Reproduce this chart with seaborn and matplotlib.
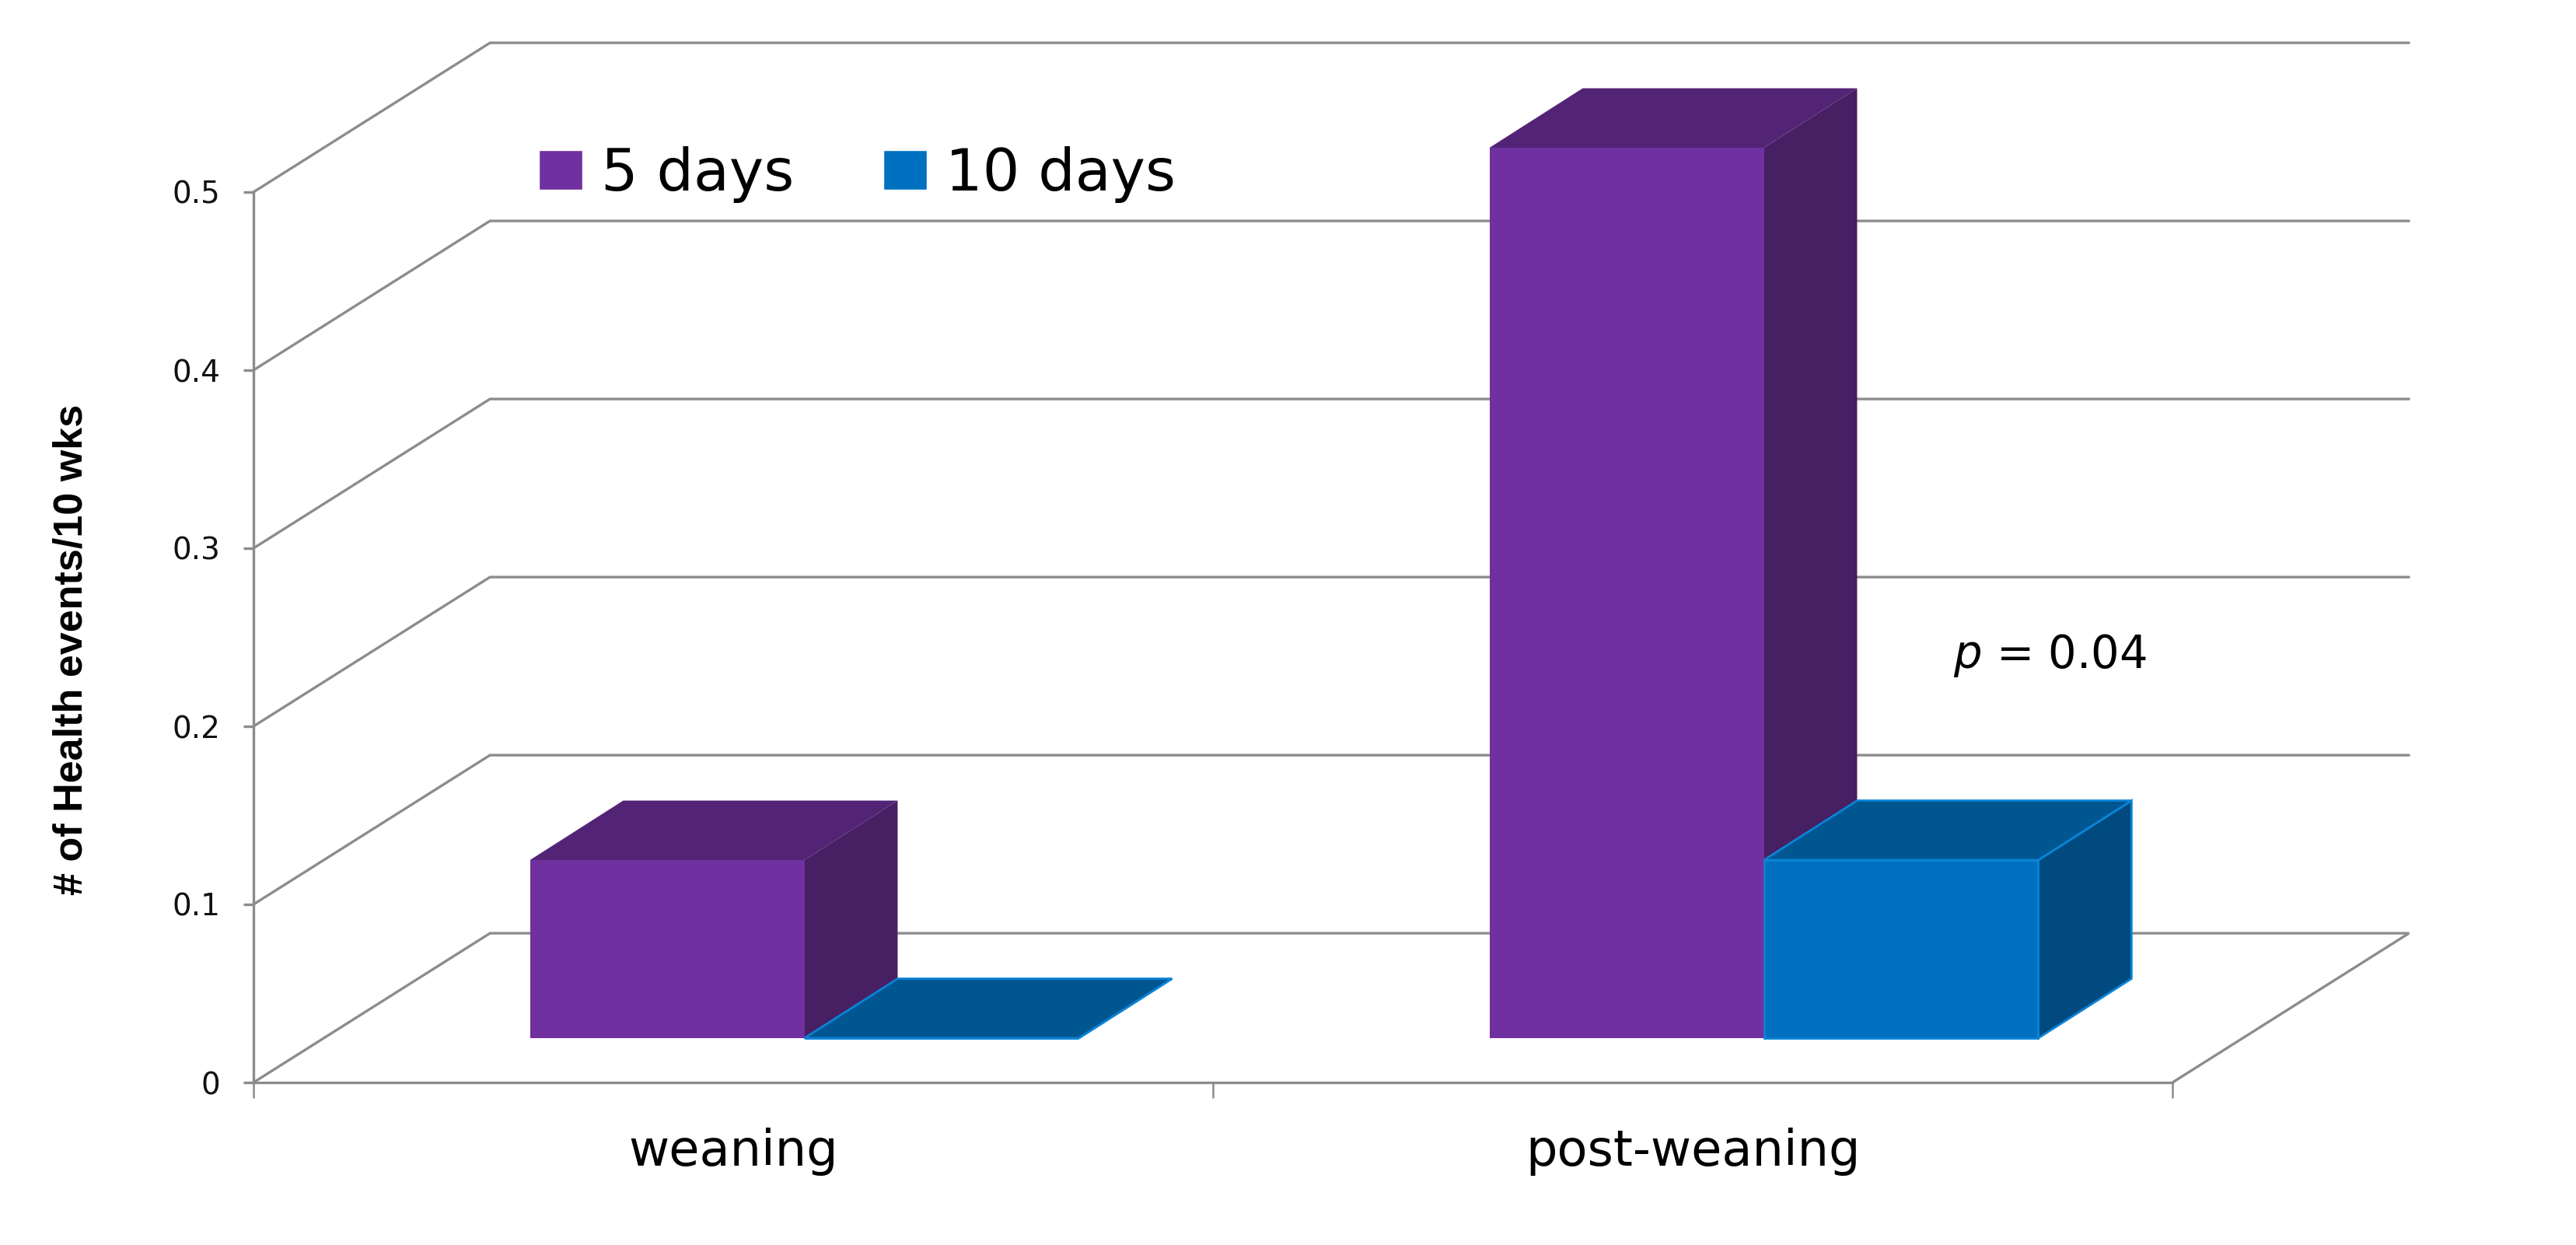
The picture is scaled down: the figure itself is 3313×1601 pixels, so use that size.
import pandas as pd
import matplotlib
matplotlib.use("Agg")
import matplotlib.pyplot as plt
from matplotlib.patches import Polygon
import seaborn as sns

# values
categories = ["weaning", "post-weaning"]
durations = ["5 days", "10 days"]
five_days = [0.1, 0.5]
ten_days = [0.0, 0.1]
y_ticks = [0, 0.1, 0.2, 0.3, 0.4, 0.5]
y_tick_labels = ["0", "0.1", "0.2", "0.3", "0.4", "0.5"]

front_colors = ["#7030A0", "#0070C0"]
top_colors = ["#532476", "#005691"]
side_colors = ["#471F63", "#004A80"]
edge_colors = ["#7030A0", "#0A84D6"]
grid_color = "#8C8C8C"

# fake 3d depth, in data units
wall_dx, wall_dy = 0.2465, 0.0838
bar_dx, bar_dy = 0.0972, 0.0334

W, H = 3313, 1601
sns.set_theme(style="white")
plt.rcParams["font.family"] = ["DejaVu Sans"]

df = pd.DataFrame({
    "phase": categories * 2,
    "duration": [durations[0]] * 2 + [durations[1]] * 2,
    "events": five_days + ten_days,
})

fig = plt.figure(figsize=(W / 100, H / 100), dpi=100, facecolor="white")

# axes frame and back walls
frame = fig.add_axes([326 / W, (H - 1392) / H, 2468 / W, 1145 / H])
frame.set_xlim(-0.5, 1.5)
frame.set_ylim(0, 0.5)
for v in y_ticks:
    xs = [-0.5, -0.5 + wall_dx, 1.5 + wall_dx]
    ys = [v, v + wall_dy, v + wall_dy]
    if v == 0:
        xs.append(1.5)
        ys.append(0)
    frame.plot(xs, ys, color=grid_color, lw=2.4, clip_on=False, solid_joinstyle="miter")

sns.despine(ax=frame)
for side in ["left", "bottom"]:
    frame.spines[side].set_color(grid_color)
    frame.spines[side].set_linewidth(2.4)
frame.set_yticks(y_ticks, y_tick_labels, fontsize=28, color="#111111")
frame.tick_params(axis="y", left=True, length=9.5, width=2.4, color=grid_color, pad=21)
frame.set_xticks(range(len(categories)), categories, fontsize=46, color="black")
frame.set_xticks([-0.5, 0.5, 1.5], minor=True)
frame.tick_params(axis="x", which="major", bottom=False, pad=36)
frame.tick_params(axis="x", which="minor", bottom=True, length=14.5, width=1.8, color=grid_color)
frame.set_ylabel("# of Health events/10 wks", fontsize=37.5, fontweight="bold",
                 family=["Liberation Sans", "DejaVu Sans"], color="black")
frame.yaxis.set_label_coords(-0.085, 0.486)
frame.text(1.2715, 0.2397, r"$\mathit{p}$ = 0.04", fontsize=41.5, color="black", va="center", ha="left")

# bars sit on a plane a bit deeper than the frame
ax = fig.add_axes([417.5 / W, (H - 1335) / H, 2468 / W, 1145 / H])
sns.barplot(data=df, x="phase", y="events", hue="duration", hue_order=durations,
            palette=front_colors, saturation=1, width=0.572, gap=0, dodge=True, ax=ax)
ax.set_xlim(-0.5, 1.5)
ax.set_ylim(0, 0.5)

for i, container in enumerate(ax.containers):
    lw = 2 if i == 1 else 0
    for bar in container:
        bar.set_edgecolor(edge_colors[i])
        bar.set_linewidth(lw)
        x0, x1 = bar.get_x(), bar.get_x() + bar.get_width()
        y = bar.get_height()
        top = [(x0, y), (x1, y), (x1 + bar_dx, y + bar_dy), (x0 + bar_dx, y + bar_dy)]
        side = [(x1, 0), (x1, y), (x1 + bar_dx, y + bar_dy), (x1 + bar_dx, bar_dy)]
        ax.add_patch(Polygon(side, facecolor=side_colors[i], edgecolor=edge_colors[i],
                             lw=lw, clip_on=False, zorder=0.5 + i / 10))
        ax.add_patch(Polygon(top, facecolor=top_colors[i], edgecolor=edge_colors[i],
                             lw=lw, clip_on=False, zorder=0.55 + i / 10))
        bar.set_clip_on(False)
        bar.set_zorder(1 + i / 10)

sns.move_legend(ax, "center left", bbox_to_anchor=(0.1116, 0.970), ncols=2, title=None,
                frameon=False, fontsize=54, handlelength=0.75, handleheight=0.65,
                handletextpad=0.32, columnspacing=1.53, borderpad=0, borderaxespad=0)
for t in ax.get_legend().get_texts():
    t.set_color("black")
ax.set_axis_off()

fig.savefig("out.png", dpi=100, facecolor="white")
